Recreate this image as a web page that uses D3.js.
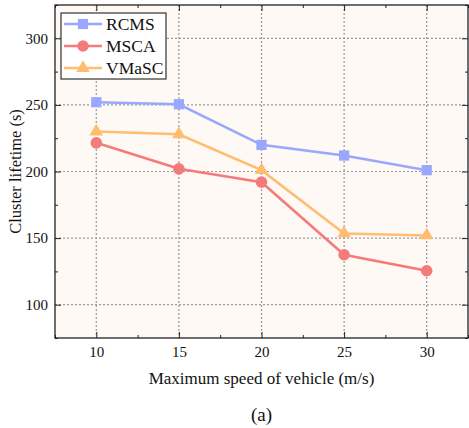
<!DOCTYPE html>
<html>
<head>
<meta charset="utf-8">
<script src="https://cdn.jsdelivr.net/npm/d3@7"></script>
<style>
  body { margin: 0; background: #fff; }
  svg text { font-family: "Liberation Serif", "Times New Roman", serif; fill: #111; }
</style>
</head>
<body>
<div id="chart"></div>
<script>
const width = 469;
const height = 428;

const speeds = [10, 15, 20, 25, 30];
const rcms = [252, 250.5, 220, 212, 201];
const msca = [221.5, 202, 192, 137.5, 125.5];
const vmasc = [230, 228, 201, 153.5, 152];
const xTicks = [10, 15, 20, 25, 30];
const yTicks = [100, 150, 200, 250, 300];

const series = [
    {name: "RCMS", values: rcms, color: "#99a7fe", marker: "square"},
    {name: "MSCA", values: msca, color: "#f57b7b", marker: "circle"},
    {name: "VMaSC", values: vmasc, color: "#ffbd70", marker: "triangle"}
];

const margin = {top: 5, right: 1, bottom: 90, left: 55};
const plotW = width - margin.left - margin.right;
const plotH = height - margin.top - margin.bottom;

const x = d3.scaleLinear().domain([7.5, 32.5]).range([0, plotW]);
const y = d3.scaleLinear().domain([75, 325]).range([plotH, 0]);

const svg = d3.select("#chart").append("svg")
    .attr("width", width)
    .attr("height", height);

const g = svg.append("g")
    .attr("transform", `translate(${margin.left},${margin.top})`);

// plot background
g.append("rect")
    .attr("width", plotW)
    .attr("height", plotH)
    .attr("fill", "#fef9f4");

// grid lines
g.append("g")
    .selectAll("line")
    .data(xTicks)
    .join("line")
        .attr("x1", d => x(d)).attr("x2", d => x(d))
        .attr("y1", 0).attr("y2", plotH)
        .attr("stroke", "#999")
        .attr("stroke-width", 1.2)
        .attr("stroke-dasharray", "2,2");

g.append("g")
    .selectAll("line")
    .data(yTicks)
    .join("line")
        .attr("x1", 0).attr("x2", plotW)
        .attr("y1", d => y(d)).attr("y2", d => y(d))
        .attr("stroke", "#999")
        .attr("stroke-width", 1.2)
        .attr("stroke-dasharray", "2,2");

// axes with inward ticks
const xMinor = d3.range(7.5, 32.6, 2.5).filter(v => v % 5 != 0);
const yMinor = d3.range(75, 326, 25).filter(v => v % 50 != 0);

function styleAxis(sel) {
    sel.select(".domain").remove();
    sel.selectAll(".tick line").attr("stroke", "#222").attr("stroke-width", 1);
    sel.selectAll("text").attr("font-size", 15);
}

const xAxis = g.append("g")
    .attr("transform", `translate(0,${plotH})`)
    .call(d3.axisBottom(x).tickValues(xTicks).tickSizeInner(-6).tickSizeOuter(0).tickPadding(8));
styleAxis(xAxis);

g.append("g")
    .attr("transform", `translate(0,${plotH})`)
    .call(d3.axisBottom(x).tickValues(xMinor).tickSize(-3).tickFormat(""))
    .call(styleAxis);

g.append("g")
    .call(d3.axisTop(x).tickValues(xTicks).tickSize(-6).tickFormat(""))
    .call(styleAxis);
g.append("g")
    .call(d3.axisTop(x).tickValues(xMinor).tickSize(-3).tickFormat(""))
    .call(styleAxis);

const yAxis = g.append("g")
    .call(d3.axisLeft(y).tickValues(yTicks).tickSizeInner(-6).tickSizeOuter(0).tickPadding(7));
styleAxis(yAxis);

g.append("g")
    .call(d3.axisLeft(y).tickValues(yMinor).tickSize(-3).tickFormat(""))
    .call(styleAxis);

g.append("g")
    .attr("transform", `translate(${plotW},0)`)
    .call(d3.axisRight(y).tickValues(yTicks).tickSize(-6).tickFormat(""))
    .call(styleAxis);
g.append("g")
    .attr("transform", `translate(${plotW},0)`)
    .call(d3.axisRight(y).tickValues(yMinor).tickSize(-3).tickFormat(""))
    .call(styleAxis);

// frame
g.append("rect")
    .attr("width", plotW)
    .attr("height", plotH)
    .attr("fill", "none")
    .attr("stroke", "#222")
    .attr("stroke-width", 1.3);

// markers
const symbolType = {
    square: d3.symbolSquare,
    circle: d3.symbolCircle,
    triangle: d3.symbolTriangle
};
const symbolSize = {square: 105, circle: 106, triangle: 80};

function marker(sel, s) {
    sel.attr("d", d3.symbol().type(symbolType[s.marker]).size(symbolSize[s.marker]))
        .attr("fill", s.color);
}

const line = d3.line()
    .x((d, i) => x(speeds[i]))
    .y(d => y(d));

for (const s of series) {
    g.append("path")
        .datum(s.values)
        .attr("d", line)
        .attr("fill", "none")
        .attr("stroke", s.color)
        .attr("stroke-width", 2.6);
    g.append("g")
        .selectAll("path")
        .data(s.values)
        .join("path")
            .attr("transform", (d, i) => `translate(${x(speeds[i])},${y(d)})`)
            .call(marker, s);
}

// legend
const legend = g.append("g").attr("transform", "translate(6,8)");
legend.append("rect")
    .attr("width", 105)
    .attr("height", 66)
    .attr("fill", "#fff")
    .attr("stroke", "#333")
    .attr("stroke-width", 1.2);

series.forEach((s, i) => {
    const row = legend.append("g")
        .attr("transform", `translate(0,${11 + i * 22})`);
    row.append("line")
        .attr("x1", 3).attr("x2", 41)
        .attr("stroke", s.color)
        .attr("stroke-width", 2.6);
    row.append("path")
        .attr("transform", "translate(22,0)")
        .call(marker, s);
    row.append("text")
        .attr("x", 45)
        .attr("dy", "0.35em")
        .attr("font-size", 17.5)
        .text(s.name);
});

// axis titles
svg.append("text")
    .attr("transform", `translate(21,${margin.top + plotH / 2}) rotate(-90)`)
    .attr("text-anchor", "middle")
    .attr("font-size", 16.5)
    .text("Cluster lifetime (s)");

svg.append("text")
    .attr("x", margin.left + plotW / 2)
    .attr("y", 384)
    .attr("text-anchor", "middle")
    .attr("font-size", 17)
    .text("Maximum speed of vehicle (m/s)");

svg.append("text")
    .attr("x", margin.left + plotW / 2)
    .attr("y", 421)
    .attr("text-anchor", "middle")
    .attr("font-size", 19)
    .text("(a)");
</script>
</body>
</html>
